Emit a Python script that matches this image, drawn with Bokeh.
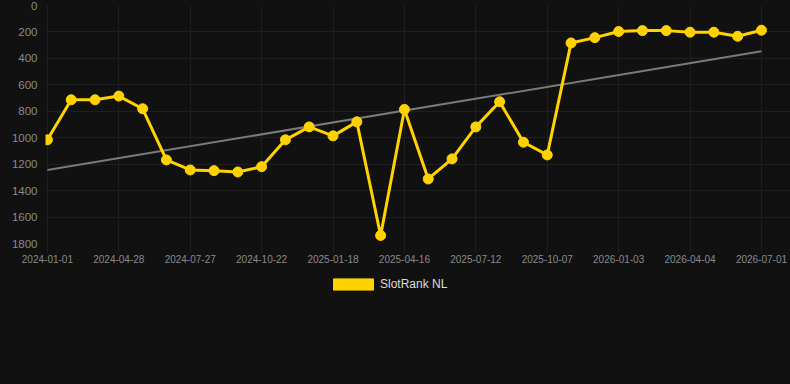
from bokeh.plotting import figure
from bokeh.layouts import column
from bokeh.models import Range1d, FixedTicker, Legend, LegendItem, ColumnDataSource
from bokeh.embed import file_html
from bokeh.resources import INLINE

# ---- data ----
ranks = [1016, 713, 713, 685, 781, 1168, 1244, 1249, 1259, 1219, 1016, 918, 986, 880,
         1739, 786, 1312, 1160, 918, 728, 1034, 1130, 283, 243, 197, 190, 190, 202,
         202, 233, 187]
tick_labels = ["2024-01-01", "2024-04-28", "2024-07-27", "2024-10-22", "2025-01-18",
               "2025-04-16", "2025-07-12", "2025-10-07", "2026-01-03", "2026-04-04",
               "2026-07-01"]
trend_values = [1244, 346]
series_name = "SlotRank NL"

idx = list(range(len(ranks)))
tick_pos = idx[::3]
trend_x = [idx[0], idx[-1]]

BG = "#111111"
GRID = "#1f1f1f"
YELLOW = "#FFD200"

p = figure(width=790, height=272, output_backend="svg", toolbar_location=None,
           x_range=Range1d(-0.08, 31.22), y_range=Range1d(1800, 0),
           background_fill_color=BG, border_fill_color=BG, outline_line_color=None,
           min_border_left=45, min_border_right=0, min_border_top=5, min_border_bottom=29)

p.xgrid.grid_line_color = GRID
p.ygrid.grid_line_color = GRID
p.xaxis.ticker = FixedTicker(ticks=tick_pos)
p.xaxis.major_label_overrides = {t: l for t, l in zip(tick_pos, tick_labels)}
p.yaxis.ticker = FixedTicker(ticks=[0, 200, 400, 600, 800, 1000, 1200, 1400, 1600, 1800])
p.xaxis.minor_tick_line_color = None
p.yaxis.minor_tick_line_color = None
p.axis.axis_line_color = None
p.xaxis.major_tick_line_color = GRID
p.xaxis.major_tick_out = 9
p.xaxis.major_tick_in = 0
p.yaxis.major_tick_line_color = None
p.yaxis.major_tick_out = 0
p.yaxis.major_tick_in = 0
p.xaxis.major_label_text_font = "Liberation Sans"
p.yaxis.major_label_text_font = "Liberation Sans"
p.xaxis.major_label_text_font_size = "10px"
p.yaxis.major_label_text_font_size = "11.5px"
p.xaxis.major_label_text_color = "#8a8a8a"
p.yaxis.major_label_text_color = "#8a8a8a"
p.xaxis.major_label_standoff = 2
p.yaxis.major_label_standoff = 8

p.line(trend_x, trend_values, line_color="#7a7a7a", line_width=2)
p.line(idx, ranks, line_color=YELLOW, line_width=3)
p.scatter(idx, ranks, size=10, fill_color=YELLOW, line_color=YELLOW)

# legend figure below the chart
lf = figure(width=790, height=112, output_backend="svg", toolbar_location=None,
            x_range=Range1d(0, 1), y_range=Range1d(0, 1),
            background_fill_color=BG, border_fill_color=BG, outline_line_color=None,
            min_border=0)
lf.axis.visible = False
lf.grid.visible = False
dummy = lf.quad(source=ColumnDataSource(dict(left=[5], right=[6], top=[6], bottom=[5])),
                left="left", right="right", top="top", bottom="bottom",
                fill_color=YELLOW, line_color=YELLOW)

legend = Legend(items=[LegendItem(label=series_name, renderers=[dummy])],
                location=(283, 93), orientation="horizontal",
                background_fill_alpha=0, border_line_color=None,
                padding=0, margin=0, glyph_width=50, glyph_height=14,
                label_height=14, label_standoff=2,
                label_text_font="Liberation Sans", label_text_font_size="12px",
                label_text_color="#dddddd")
lf.add_layout(legend, "center")

layout = column(p, lf, spacing=0)
html = file_html(layout, INLINE)
style = "<style>html, body { margin:0; padding:0; background:#111111; }</style>"
html = html.replace("</head>", style + "</head>", 1)
open("out.html", "w").write(html)
